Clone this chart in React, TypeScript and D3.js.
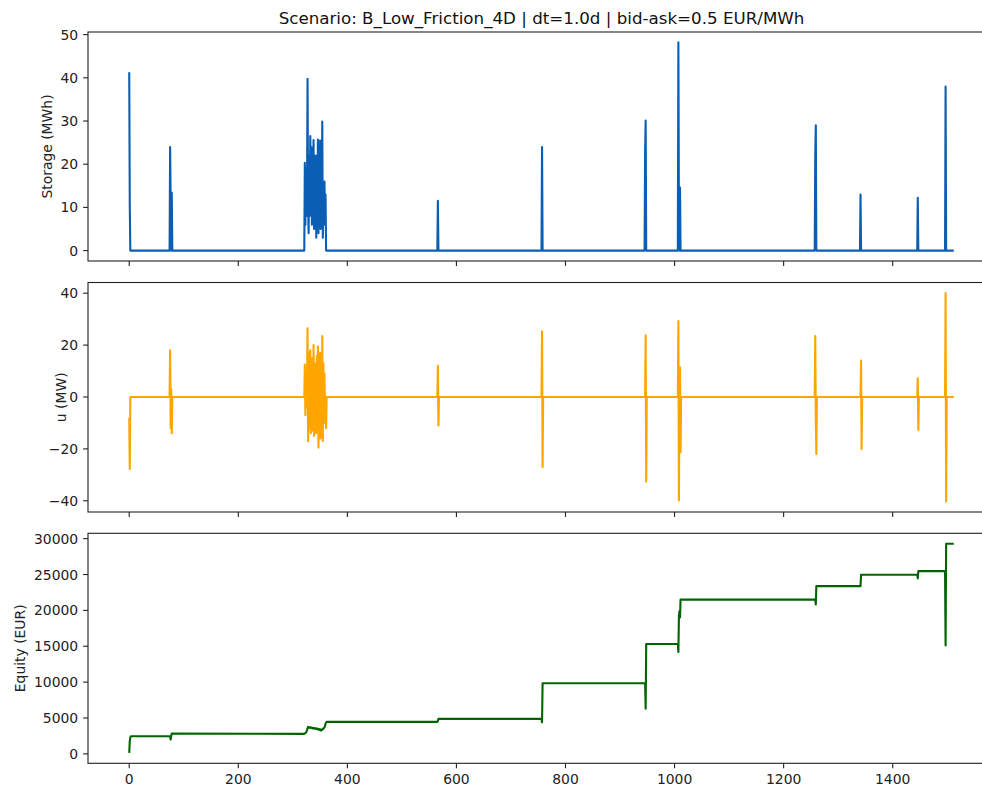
import * as d3 from 'd3';

// ---- data ----
// series are daily; between the listed [day, value] points the value stays flat
const chartTitle = 'Scenario: B_Low_Friction_4D | dt=1.0d | bid-ask=0.5 EUR/MWh';
const lastDay = 1512;

// busy trading window starting at day 320 (one value per day)
const clusterStart = 320;
const storageCluster = [
  0, 0, 20.3, 6, 19, 8, 12, 39.8, 10, 4, 22, 8, 26.5, 12, 24, 6, 21, 10, 25.6, 5, 18, 11,
  22, 3, 19, 6, 25.7, 4, 17, 9, 25.5, 5, 21, 7, 29.9, 3, 16, 6, 16, 8, 13, 0,
];
const flowCluster = [
  0, 0, 12.5, -7, 10, -4, 5, 26.5, -17, -6, 17, -12, 18, -14, 12, -9, 15, -13, 20, -15, 13, -7,
  11, -14, 16, -13, 19.5, -19.5, 14, -8, 17, -16, 15, -12, 23.5, -17, 13, -10, 9, -5, -3, -12, 0,
];
const equityCluster = [
  2790, 2800, 2850, 2900, 2950, 3100, 3300, 3550, 3750, 3700, 3650, 3720, 3700, 3600, 3680, 3650,
  3560, 3620, 3550, 3600, 3520, 3560, 3500, 3550, 3450, 3520, 3500, 3400, 3350, 3450, 3420, 3300,
  3250, 3400, 3380, 3450, 3550, 3600, 3700, 3900, 4200, 4350, 4460,
];

const storageEvents: [number, number][] = [
  [0, 41.3], [1, 10.5], [2, 0],
  [74, 0], [75, 24.0], [76, 11], [77, 0], [78, 13.4], [79, 0],
  [565, 0], [566, 11.5], [567, 0],
  [756, 0], [757, 24.0], [758, 0],
  [945, 0], [946, 23], [947, 30.1], [948, 0],
  [1006, 0], [1007, 48.2], [1008, 8], [1009, 0], [1010, 14.6], [1011, 0],
  [1257, 0], [1258, 22], [1259, 29], [1260, 0],
  [1340, 0], [1341, 13.0], [1342, 0],
  [1445, 0], [1446, 12.2], [1447, 0],
  [1496, 0], [1497, 38.0], [1498, 0],
  [lastDay, 0],
];

const flowEvents: [number, number][] = [
  [0, -8], [1, -27.7], [2, 0],
  [74, 0], [75, 18], [76, -12], [77, 3], [78, -14], [79, 0],
  [565, 0], [566, 12], [567, -11], [568, 0],
  [756, 0], [757, 25.3], [758, -27], [759, 0],
  [946, 0], [947, 23.8], [948, -32.6], [949, 0],
  [1006, 0], [1007, 29.3], [1008, -39.9], [1009, 0], [1010, 11.4], [1011, -21.3], [1012, 0],
  [1257, 0], [1258, 23.5], [1259, -9], [1260, -22], [1261, 0],
  [1341, 0], [1342, 14], [1343, -20], [1344, 0],
  [1445, 0], [1446, 7.2], [1447, -12.7], [1448, 0],
  [1496, 0], [1497, 40.1], [1498, -40.3], [1499, 0],
  [lastDay, 0],
];

const equityEvents: [number, number][] = [
  [0, 140], [1, 1760], [2, 2300], [3, 2455],
  [74, 2455], [75, 2350], [76, 2000], [77, 2500], [78, 2830],
  [565, 4460], [566, 4600], [567, 4880],
  [756, 4880], [757, 4400], [758, 9850],
  [946, 9850], [947, 6300], [948, 15320],
  [1006, 15320], [1007, 14200], [1008, 19300], [1009, 19900], [1010, 19000], [1011, 21500],
  [1258, 21500], [1259, 20830], [1260, 23390],
  [1341, 23390], [1342, 24970],
  [1445, 24970], [1446, 24450], [1447, 25470],
  [1496, 25470], [1497, 15100], [1498, 29290],
  [lastDay, 29290],
];

const xTicks = [0, 200, 400, 600, 800, 1000, 1200, 1400];
const storageTicks = [0, 10, 20, 30, 40, 50];
const flowTicks = [-40, -20, 0, 20, 40];
const equityTicks = [0, 5000, 10000, 15000, 20000, 25000, 30000];

function withCluster(events: [number, number][], cluster: number[]): [number, number][] {
  const pts: [number, number][] = cluster.map((v, i) => [clusterStart + i, v]);
  return [...events, ...pts].sort((a, b) => a[0] - b[0]);
}

const storage = withCluster(storageEvents, storageCluster);
const flow = withCluster(flowEvents, flowCluster);
const equity = withCluster(equityEvents, equityCluster);

// ---- layout ----
const W = 982;
const H = 787;
const LEFT = 88;
const RIGHT = 995;
const FONT = "'DejaVu Sans', sans-serif";
const TICK_FS = 13.9;

// matplotlib-like 5% margins
function padded([a, b]: [number, number]): [number, number] {
  const m = (b - a) * 0.05;
  return [a - m, b + m];
}

const x = d3
  .scaleLinear()
  .domain(padded([0, d3.max(storage, d => d[0]) as number]))
  .range([LEFT, RIGHT]);

const fmt = d3.format('d');

function labelWidth(s: string) {
  let w = 0;
  for (const c of s) w += c === '\u2212' ? 0.838 : 0.636;
  return w * TICK_FS;
}

interface PanelProps {
  data: [number, number][];
  ticks: number[];
  label: string;
  labelAt?: number;
  color: string;
  top: number;
  bottom: number;
  showX: boolean;
}

function Panel({ data, ticks, label, labelAt, color, top, bottom, showX }: PanelProps) {
  const y = d3
    .scaleLinear()
    .domain(padded(d3.extent(data, d => d[1]) as [number, number]))
    .range([bottom, top]);
  const line = d3
    .line<[number, number]>()
    .x(d => x(d[0]))
    .y(d => y(d[1]));

  const tickRight = LEFT - 4.9 - 4.9;
  const maxW = d3.max(ticks, t => labelWidth(fmt(t))) as number;
  const labelX = labelAt ?? tickRight - maxW - 5.6 - 3.3;

  return (
    <g>
      <path
        d={line(data) || ''}
        fill="none"
        stroke={color}
        strokeWidth={2.1}
        strokeLinejoin="round"
      />
      <rect
        x={LEFT}
        y={top}
        width={RIGHT - LEFT}
        height={bottom - top}
        fill="none"
        stroke="#222"
        strokeWidth={1.1}
      />
      {ticks.map(t => (
        <g key={t} transform={`translate(0,${y(t)})`}>
          <line x1={LEFT - 4.9} x2={LEFT} stroke="#222" strokeWidth={1.1} />
          <text
            x={tickRight}
            dy="0.36em"
            textAnchor="end"
            fontSize={TICK_FS}
            fill="#222"
          >
            {fmt(t)}
          </text>
        </g>
      ))}
      {xTicks.map(t => (
        <g key={t} transform={`translate(${x(t)},${bottom})`}>
          <line y1={0} y2={4.9} stroke="#222" strokeWidth={1.1} />
          {showX && (
            <text y={4.9 + 4.9} dy="0.76em" textAnchor="middle" fontSize={TICK_FS} fill="#222">
              {fmt(t)}
            </text>
          )}
        </g>
      ))}
      <text
        transform={`translate(${labelX},${(top + bottom) / 2}) rotate(-90)`}
        textAnchor="middle"
        fontSize={TICK_FS}
        fill="#222"
      >
        {label}
      </text>
    </g>
  );
}

export default function App() {
  return (
    <svg
      width={W}
      height={H}
      viewBox={`0 0 ${W} ${H}`}
      style={{ position: 'absolute', left: 0, top: 0, background: '#fff', fontFamily: FONT }}
    >
      <rect width={W} height={H} fill="#fff" />
      <text x={(LEFT + RIGHT) / 2} y={23.5} textAnchor="middle" fontSize={16.7} fill="#111">
        {chartTitle}
      </text>
      <Panel data={storage} ticks={storageTicks} label="Storage (MWh)" color="#0a5eb4" top={32} bottom={261} showX={false} />
      <Panel data={flow} ticks={flowTicks} label="u (MW)" labelAt={65.5} color="#ffa500" top={282.5} bottom={512} showX={false} />
      <Panel data={equity} ticks={equityTicks} label="Equity (EUR)" color="#006400" top={533.3} bottom={763.3} showX={true} />
    </svg>
  );
}
